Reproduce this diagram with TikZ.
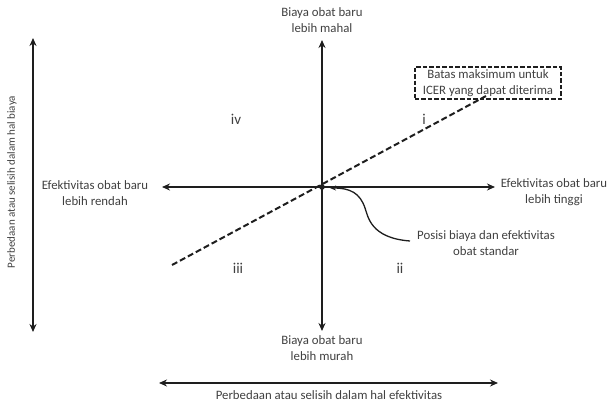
\documentclass[tikz,border=0pt]{standalone}
\usepackage{fontspec}
\setmainfont{Carlito}
\usetikzlibrary{arrows.meta}
\definecolor{txt}{HTML}{404040}
\definecolor{ln}{HTML}{1E1E1E}
\begin{document}
\begin{tikzpicture}[x=1pt,y=-1pt,
  lbl/.style={text=txt,font=\fontsize{12.8}{15.8}\selectfont,align=center,inner sep=1pt},
  roman/.style={text=txt,font=\fontsize{15}{17}\selectfont,inner sep=1pt},
  axis/.style={ln,line width=1.8pt,-{Stealth[length=8pt,width=7pt]}},
  dbl/.style={ln,line width=1.8pt,{Stealth[length=8pt,width=7pt]}-{Stealth[length=8pt,width=7pt]}}]
\useasboundingbox (0,0) rectangle (613,404);
% origin
\coordinate (O) at (322,187);
\coordinate (vt) at (322,40);
\coordinate (vb) at (322,331);
\coordinate (hl) at (162,187);
\coordinate (hr) at (495,187);
\draw[axis] (O) -- (vt);
\draw[axis] (O) -- (vb);
\draw[axis] (O) -- (hl);
\draw[axis] (O) -- (hr);
% labels of axes
\node[lbl] (top) at (322,20) {Biaya obat baru\\lebih mahal};
\node[lbl] (bot) at (322,348) {Biaya obat baru\\lebih murah};
\node[lbl] (left) at (95,193) {Efektivitas obat baru\\lebih rendah};
\node[lbl] (right) at (554,192) {Efektivitas obat baru\\lebih tinggi};
% dashed ICER line
\coordinate (d1) at (172,265);
\coordinate (d2) at (486,96);
\draw[ln,line width=2pt,dash pattern=on 6pt off 3pt] (d1) -- (d2);
\node[lbl,draw=ln,line width=1.6pt,dash pattern=on 4.5pt off 2pt,inner xsep=8pt,inner ysep=2.5pt] (icer) at (488,83) {Batas maksimum untuk\\ICER yang dapat diterima};
% origin dot
\fill[ln] (O) circle (2.8pt);
% roman numerals
\node[roman] (q4) at (236,119) {iv};
\node[roman] (q1) at (424,119) {i};
\node[roman] (q3) at (238,268) {iii};
\node[roman] (q2) at (400,268) {ii};
% standard position
\node[lbl,anchor=west] (pos) at (416,243) {Posisi biaya dan efektivitas\\obat standar};
\coordinate (cs) at (410,241);
\coordinate (ce) at (330,188);
\draw[ln,line width=1.3pt,-{Stealth[length=6pt,width=5pt]}] (cs) .. controls (370,238) and (368,216) .. (365,208) .. controls (360,193) and (350,188) .. (ce);
% left vertical double arrow
\coordinate (lv1) at (33,38);
\coordinate (lv2) at (33,332);
\draw[dbl] (lv1) -- (lv2);
\node[lbl,font=\fontsize{11}{13}\selectfont,rotate=90] (lvl) at (12,182) {Perbedaan atau selisih dalam hal biaya};
% bottom double arrow
\coordinate (bh1) at (159,383);
\coordinate (bh2) at (498,383);
\draw[dbl] (bh1) -- (bh2);
\node[lbl] (bhl) at (329,395) {Perbedaan atau selisih dalam hal efektivitas};
\end{tikzpicture}
\end{document}
